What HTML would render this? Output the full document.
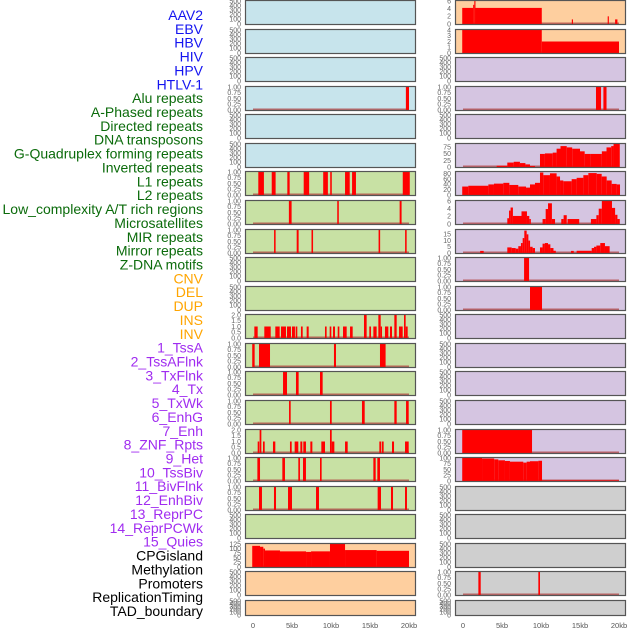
<!DOCTYPE html>
<html><head><meta charset="utf-8">
<style>
html,body{margin:0;padding:0;background:#fff;}
svg{display:block;font-family:"Liberation Sans",sans-serif;}
</style></head>
<body>
<svg id="chart" width="630" height="630" viewBox="0 0 630 630" xmlns="http://www.w3.org/2000/svg"></svg>
<script>
// ---------- data (kb intervals: [start, end, value]) ----------
const featureLabels = ["AAV2","EBV","HBV","HIV","HPV","HTLV-1","Alu repeats","A-Phased repeats","Directed repeats","DNA transposons","G-Quadruplex forming repeats","Inverted repeats","L1 repeats","L2 repeats","Low_complexity A/T rich regions","Microsatellites","MIR repeats","Mirror repeats","Z-DNA motifs","CNV","DEL","DUP","INS","INV","1_TssA","2_TssAFlnk","3_TxFlnk","4_Tx","5_TxWk","6_EnhG","7_Enh","8_ZNF_Rpts","9_Het","10_TssBiv","11_BivFlnk","12_EnhBiv","13_ReprPC","14_ReprPCWk","15_Quies","CPGisland","Methylation","Promoters","ReplicationTiming","TAD_boundary"];
const labelGroups = ["v","v","v","v","v","v","r","r","r","r","r","r","r","r","r","r","r","r","r","s","s","s","s","s","c","c","c","c","c","c","c","c","c","c","c","c","c","c","c","o","o","o","o","o"];
const xTickLabels = ["0","5kb","10kb","15kb","20kb"];
const xTickValues = [0,5,10,15,20];
const emptyTicks = [0,100,200,300,400,500];
const unitTicks = [0,0.25,0.5,0.75,1];
const twoTicks = [0,0.5,1,1.5,2];

const leftAlu = [[19.6,20.0,1]];
const leftL1 = [[0.68,1.4,1],[2.4,2.9,1],[4.4,4.7,1],[6.5,7.2,1],[9.0,9.6,1],[9.9,10.1,1],[11.8,12.4,1],[12.7,13.2,1],[19.2,20.1,1]];
const leftL2 = [[4.6,4.95,1],[10.8,11.0,1],[18.8,19.05,1]];
const leftLowComplexity = [[2.7,2.9,1],[5.6,5.85,1],[7.5,7.7,1],[16.1,16.3,1],[19.5,19.7,1]];
const leftINS = [[0.17,0.6,1],[1.45,2.27,1],[2.86,3.42,1],[3.59,4.23,1],[4.36,4.87,1],[5.0,5.38,1],[5.47,5.68,1],[6.15,6.37,1],[6.88,7.14,1],[9.23,9.44,1],[9.83,10.04,1],[10.26,10.51,1],[10.86,11.07,1],[11.54,12.01,1],[12.44,12.78,1],[14.23,14.57,2],[14.91,15.13,1],[15.43,15.85,1],[16.07,16.37,2],[16.37,16.54,1],[16.92,17.35,1],[17.56,17.82,1],[18.12,18.42,2],[18.72,19.19,1],[19.36,19.57,2],[19.57,19.83,1]];
const leftTssA = [[-0.1,0.21,1],[0.77,2.18,1],[10.38,10.64,1],[16.28,17.0,1]];
const leftTssAFlnk = [[3.85,4.36,1],[5.51,5.85,1],[8.59,8.93,1]];
const leftTxFlnk = [[4.62,4.83,1],[9.87,10.09,1],[13.97,14.32,1],[18.12,18.42,1],[19.62,19.96,1]];
const leftTx = [[0.6,0.8,1],[0.85,1.07,2],[1.28,1.5,1],[2.56,2.86,1],[4.74,4.96,1],[5.34,5.81,1],[6.07,6.32,1],[6.45,6.79,1],[7.35,7.61,1],[8.76,9.23,1],[9.87,10.09,2],[10.09,10.43,1],[11.8,12.14,1],[16.2,16.41,1],[16.5,16.75,1],[17.82,18.08,1],[19.49,19.96,1]];
const leftTxWk = [[0.56,0.9,1],[3.76,4.1,1],[5.81,6.02,1],[6.41,6.79,1],[8.59,8.8,1],[15.43,15.73,1],[15.94,16.28,1]];
const leftEnhG = [[0.77,1.15,1],[2.69,2.95,1],[4.49,5.0,1],[8.08,8.46,1],[15.98,16.41,1],[17.69,17.95,1],[19.49,19.74,1]];
const leftCPG = [[-0.1,0.9,115],[0.9,1.32,110],[1.32,1.54,100],[1.54,3.46,90],[3.46,6.8,85],[6.8,7.44,82],[7.44,9.87,85],[9.87,11.8,125],[11.8,15.85,92],[15.85,20.0,88]];

const rightAAV2 = [[-0.1,1.3,4.2],[1.3,1.45,5],[1.45,1.6,6],[1.6,10.1,4.2],[13.95,14.1,1.2],[18.55,18.7,2],[19.5,19.8,1.2]];
const rightEBV = [[-0.1,10.1,4],[10.1,20.0,2]];
const rightAlu = [[17.05,17.7,1],[18.0,18.4,1]];
const rightGQuad = [[4.32,5.68,5],[5.68,6.5,17],[6.5,7.3,20],[7.3,8.0,15],[8.0,8.59,10],[8.59,9.23,4],[9.87,10.5,50],[10.5,11.5,52],[11.5,12.0,55],[12.0,12.5,70],[12.5,13.3,80],[13.3,14.0,75],[14.0,15.0,70],[15.0,15.6,60],[15.6,16.3,50],[16.3,17.8,50],[17.8,18.4,60],[18.4,19.0,75],[19.0,19.3,80],[19.3,20.1,88]];
const rightInverted = [[-0.1,0.68,32],[0.68,3.25,35],[3.25,3.97,40],[3.97,5.17,43],[5.17,5.94,46],[5.94,7.09,38],[7.09,8.08,32],[8.08,8.59,28],[8.59,9.23,40],[9.23,9.87,46],[9.87,10.3,85],[10.3,11.15,75],[11.15,12.0,82],[12.0,12.44,70],[12.44,12.86,55],[12.86,13.93,52],[13.93,14.57,60],[14.57,15.43,65],[15.43,16.07,75],[16.07,17.14,83],[17.14,17.78,80],[17.78,18.42,70],[18.42,19.06,55],[19.06,19.7,42],[19.7,20.13,40]];
const rightL1 = [[5.68,5.9,1.5],[5.9,6.1,3.5],[6.1,6.4,4.3],[6.4,7.5,2.1],[7.5,8.2,3.3],[8.2,8.5,2.1],[8.5,8.7,1.3],[10.2,10.6,1.3],[10.6,10.9,3.9],[10.9,11.4,5.4],[11.4,11.8,1.3],[12.6,12.9,1.3],[12.9,13.3,2.3],[13.4,14.9,1.3],[16.4,17.1,1.3],[17.1,17.4,2.3],[17.4,17.8,4],[17.8,19.1,6],[19.1,19.5,4.2],[19.5,19.8,2.4],[19.8,20.1,1.3]];
const rightL2 = [[2.2,2.65,1.7],[5.68,6.24,4.5],[6.24,6.75,4],[6.75,7.09,3.5],[7.09,7.43,5.5],[7.43,7.65,8],[7.65,7.86,12],[7.86,8.16,18],[8.16,8.38,15],[8.38,8.6,10],[8.6,8.93,5],[8.93,9.23,4],[9.87,10.2,4.5],[10.2,10.5,7.5],[10.5,10.9,8],[10.9,11.2,7],[11.2,11.6,4],[11.6,11.9,1.8],[13.85,14.2,1.7],[14.57,16.5,1.8],[16.5,16.8,4],[16.8,17.1,5],[17.1,17.6,6],[17.6,18.2,8],[18.2,18.8,5.5]];
const rightLowComplexity = [[7.83,8.47,1]];
const rightMicrosat = [[8.59,10.13,1]];
const rightZnf = [[-0.1,8.85,1]];
const rightHet = [[-0.1,2.44,100],[2.44,4.0,98],[4.0,4.53,94],[4.53,5.38,90],[5.38,6.02,87],[6.02,7.73,84],[7.73,8.16,80],[8.16,8.59,84],[8.59,9.66,86],[9.66,10.13,88],[10.13,20.0,3]];
const rightPromoters = [[1.97,2.27,1],[9.66,9.87,1]];

// row specs: [background, ticks, max, series]
const BG = {b:"#c7e4ec", g:"#c8e1a4", o:"#fecf9f", p:"#d5c5e1", k:"#cfcfcf"};
const leftRows = [
 ["b",emptyTicks,500,null],["b",emptyTicks,500,null],["b",emptyTicks,500,null],["b",unitTicks,1,leftAlu],
 ["b",emptyTicks,500,null],["b",emptyTicks,500,null],["g",unitTicks,1,leftL1],["g",unitTicks,1,leftL2],
 ["g",unitTicks,1,leftLowComplexity],["g",emptyTicks,500,null],["g",emptyTicks,500,null],["g",twoTicks,2,leftINS],
 ["g",unitTicks,1,leftTssA],["g",unitTicks,1,leftTssAFlnk],["g",unitTicks,1,leftTxFlnk],["g",twoTicks,2,leftTx],
 ["g",unitTicks,1,leftTxWk],["g",unitTicks,1,leftEnhG],["g",emptyTicks,500,null],["o",[0,25,50,75,100,125],125,leftCPG],
 ["o",emptyTicks,500,null],["o",emptyTicks,500,null]
];
const rightRows = [
 ["o",[0,2,4,6],6,rightAAV2],["o",[0,1,2,3,4],4,rightEBV],["p",emptyTicks,500,null],["p",unitTicks,1,rightAlu],
 ["p",emptyTicks,500,null],["p",[0,25,50,75],88,rightGQuad],["p",[0,20,40,60,80],87,rightInverted],["p",[0,2,4,6],6,rightL1],
 ["p",[0,5,10,15],18.5,rightL2],["p",unitTicks,1,rightLowComplexity],["p",unitTicks,1,rightMicrosat],["p",emptyTicks,500,null],
 ["p",emptyTicks,500,null],["p",emptyTicks,500,null],["p",emptyTicks,500,null],["p",unitTicks,1,rightZnf],
 ["p",[0,25,50,75,100],100,rightHet],["k",emptyTicks,500,null],["k",emptyTicks,500,null],["k",emptyTicks,500,null],
 ["k",unitTicks,1,rightPromoters],["k",emptyTicks,500,null]
];

// ---------- drawing ----------
const NS="http://www.w3.org/2000/svg";
const svg=document.getElementById("chart");
function mk(tag,attrs,parent){const e=document.createElementNS(NS,tag);for(const k in attrs)e.setAttribute(k,attrs[k]);(parent||svg).appendChild(e);return e;}
const COLORS={v:"#1414f0",r:"#0b6b0b",s:"#ffa500",c:"#a02cf0",o:"#000000"};

// labels
featureLabels.forEach((t,i)=>{
  const el=mk("text",{x:203,y:(15+i*13.86+5).toFixed(1),"text-anchor":"end","font-size":"14",fill:COLORS[labelGroups[i]]});
  
  
  el.textContent=t;
});

function fmt(v,ticks){const dec=ticks.some(t=>Math.abs(t%1-0.25)<1e-9||Math.abs(t%1-0.75)<1e-9)?2:(ticks.some(t=>t%1!==0)?1:0);return v.toFixed(dec);}

function drawPanel(col,idx,spec){
  const px0 = col===0?245:455, px1 = col===0?416:626;
  const x0 = col===0?253:463;
  const xs = kb=>x0+kb*7.8;
  const top = Math.round(idx*28.57);
  const h = idx===21?16:25;
  const yb = top+h-1, yt=top+1;
  const [bg,ticks,max,series]=spec;
  const g=mk("g",{});
  
  
  const r=mk("rect",{x:px0+0.5,y:top+0.5,width:px1-px0-1,height:h-1,fill:BG[bg],stroke:"none"},g);
  
  
  const ys=v=>yb-v/max*(yb-yt);
  ticks.forEach(t=>{
    const tl=mk("text",{x:px0-4,y:(ys(t)+2.3).toFixed(1),"text-anchor":"end","font-size":"7",fill:"#666"},g);
    
    
    tl.textContent=fmt(t,ticks);
  });
  if(series){
    const bl=mk("line",{x1:xs(0),x2:xs(20),y1:yb-0.7,y2:yb-0.7,stroke:"#b04040","stroke-width":"1.6","stroke-opacity":"0.75"},g);
    
    
    series.forEach(d=>{
      const a=Math.max(xs(d[0]),px0+1), b=Math.min(xs(d[1]),px1-1);
      const y=ys(d[2]);
      const rc=mk("rect",{x:a.toFixed(2),y:y.toFixed(2),width:Math.max(0.8,b-a).toFixed(2),height:(yb-y).toFixed(2),fill:"#ff0000"},g);
      
      
    });
  }
  const fr=mk("rect",{x:px0+0.5,y:top+0.5,width:px1-px0-1,height:h-1,fill:"none",stroke:"#555","stroke-width":"1.2"},g);
  
  
}
leftRows.forEach((s,i)=>drawPanel(0,i,s));
rightRows.forEach((s,i)=>drawPanel(1,i,s));

[253,463].forEach((x0,c)=>{
  xTickValues.forEach((v,i)=>{
    const t=mk("text",{x:x0+v*7.8,y:628,"text-anchor":"middle","font-size":"7.5",fill:"#555"});
    
    
    t.textContent=xTickLabels[i];
  });
});
</script>
</body></html>
